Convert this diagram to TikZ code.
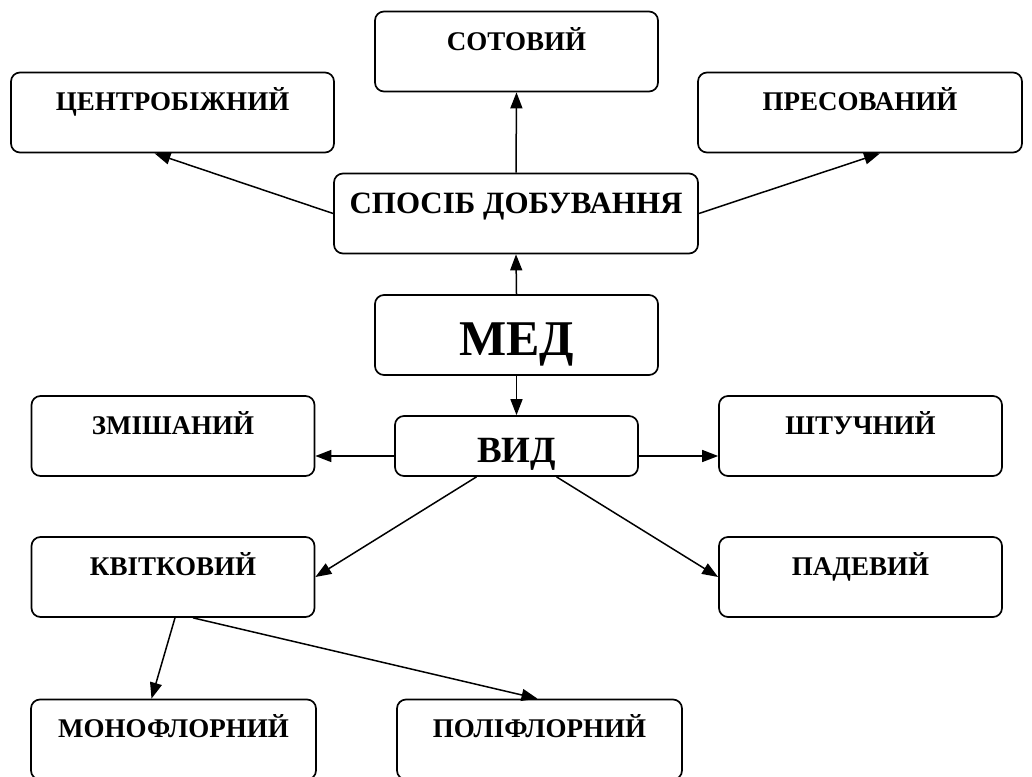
\documentclass[tikz,border=0pt]{standalone}
\usepackage{fontspec}
\setmainfont{Liberation Serif}
\usetikzlibrary{arrows.meta,positioning,calc}
\tikzstyle{box} = [draw,line width=1.7pt,rounded corners=9pt,inner sep=0pt,minimum width=283pt,font=\bfseries\fontsize{27}{30}\selectfont,text height=38pt,text depth=42pt]
\tikzset{>={Triangle[length=16pt,width=12pt]}}

\begin{document}
\begin{tikzpicture}[x=1pt,y=1pt,line width=1.5pt]
    \useasboundingbox (0,0) rectangle (1032,-776);

    \node [box,text height=39pt,text depth=41pt] (sot) at (516.5,-51.5) {СОТОВИЙ};
    \node [box,minimum width=323pt] (cent) at (172.5,-112.5) {ЦЕНТРОБІЖНИЙ};
    \node [box,minimum width=324pt] (pres) at (860,-112.5) {ПРЕСОВАНИЙ};
    \node [box,minimum width=364pt,text height=40pt,text depth=40pt,font=\bfseries\fontsize{31}{34}\selectfont] (sposib) at (516,-213.5) {СПОСІБ ДОБУВАННЯ};
    \node [box,text height=60pt,text depth=20pt,font=\bfseries\fontsize{50}{56}\selectfont] (med) at (516.5,-335) {МЕД};
    \node [box,minimum width=243pt,text height=46pt,text depth=14pt,font=\bfseries\fontsize{37}{40}\selectfont] (vyd) at (516.5,-446) {ВИД};
    \node [box] (zmish) at (173,-436) {ЗМІШАНИЙ};
    \node [box] (shtuch) at (860.5,-436) {ШТУЧНИЙ};
    \node [box] (kvit) at (173,-577) {КВІТКОВИЙ};
    \node [box] (padev) at (860.5,-577) {ПАДЕВИЙ};
    \node [box,minimum width=285pt] (mono) at (173.5,-739.5) {МОНОФЛОРНИЙ};
    \node [box,minimum width=285pt] (poli) at (539.5,-739.5) {ПОЛІФЛОРНИЙ};

    \draw [->] (sposib.north) -- (sot.south);
    \draw [->] (sposib.west) -- ([xshift=-18pt]cent.south);
    \draw [->] (sposib.east) -- ([xshift=20pt]pres.south);
    \draw [->] (med.north) -- (sposib.south);
    \draw [->] (med.south) -- (vyd.north);
    \draw [->] ([yshift=-10pt]vyd.west) -- ([yshift=-10pt]vyd.west -| zmish.east);
    \draw [->] ([yshift=-10pt]vyd.east) -- ([yshift=-10pt]vyd.east -| shtuch.west);
    \draw [->] ([xshift=-40pt]vyd.south) -- (kvit.east);
    \draw [->] ([xshift=40pt]vyd.south) -- (padev.west);
    \draw [->] ([xshift=2pt]kvit.south) -- ([xshift=-22pt]mono.north);
    \draw [->] ([xshift=20pt]kvit.south) -- ([xshift=-2pt]poli.north);
\end{tikzpicture}
\end{document}
